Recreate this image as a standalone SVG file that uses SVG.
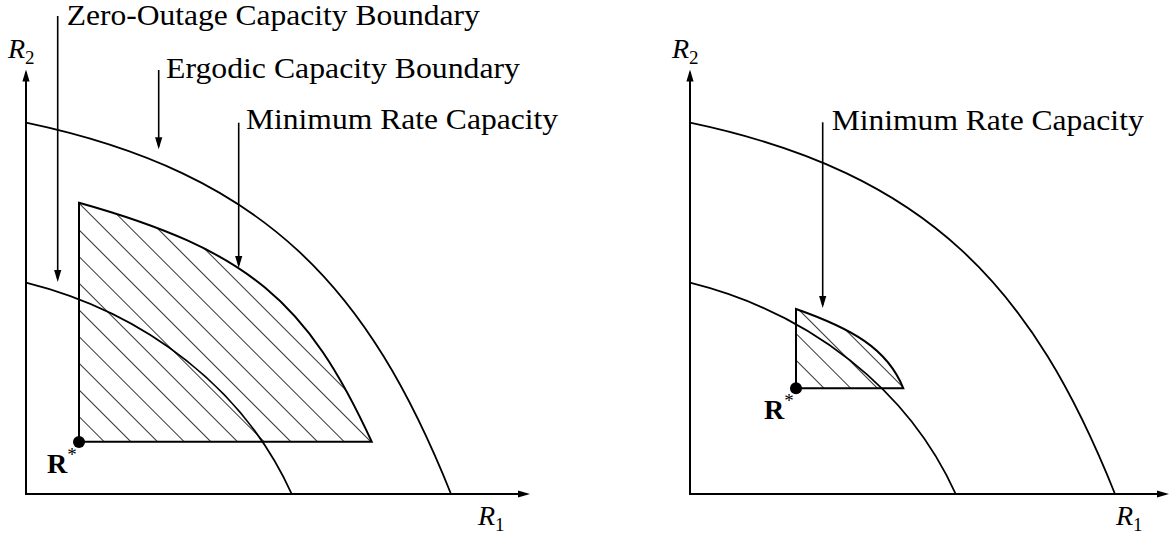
<svg xmlns="http://www.w3.org/2000/svg" width="1176" height="540" viewBox="0 0 1176 540">
  <style>
    .axis { stroke: #000; stroke-width: 2; fill: none; }
    .curve { stroke: #000; stroke-width: 1.8; fill: none; }
    .region { stroke: #000; stroke-width: 2; fill: url(#hatch); stroke-linejoin: miter; }
    .lead { stroke: #000; stroke-width: 1.6; fill: none; }
    text { font-family: "Liberation Serif", "Times New Roman", serif; fill: #000; }
    .lbl { font-size: 29px; }
    .math { font-style: italic; font-size: 28px; }
    .sub { font-style: normal; font-size: 19px; }
    .bold { font-weight: bold; font-size: 28px; }
    .sup { font-weight: normal; font-size: 19px; }
  </style>
  <defs>
    <marker id="arr" viewBox="0 -4 12 8" refX="9" refY="0" markerWidth="12" markerHeight="8" markerUnits="userSpaceOnUse" orient="auto">
      <path d="M0,-3.6 L12,0 L0,3.6 Z" fill="#000"/>
    </marker>
    <pattern id="hatch" patternUnits="userSpaceOnUse" width="20" height="18.856" patternTransform="rotate(45)">
      <line x1="-1" y1="12.4" x2="21" y2="12.4" stroke="#333" stroke-width="1"/>
    </pattern>
  </defs>

  <!-- Left panel -->
  <g id="left-panel">
    <g id="left-region">
      <path class="region" d="M79,202.7 C249,250.3 307.3,301.7 371.7,441.7 L79,441.7 Z"/>
    </g>
    <g id="left-ergodic">
      <path class="curve" d="M26,122.7 C266,173.1 369,289 451,494"/>
    </g>
    <g id="left-zero-outage">
      <path class="curve" d="M26,282.7 C146,312.7 244.5,389.3 291.7,494"/>
    </g>
    <g id="left-rstar">
      <circle cx="79" cy="442" r="6"/>
      <text class="bold" x="47" y="473">R<tspan class="sup" dy="-12">*</tspan></text>
    </g>
    <g id="left-axes">
      <line class="axis" x1="26" y1="494" x2="26" y2="72.5" marker-end="url(#arr)"/>
      <line class="axis" x1="25" y1="494" x2="527" y2="494" marker-end="url(#arr)"/>
      <text class="math" x="8" y="58">R<tspan class="sub" dy="6">2</tspan></text>
      <text class="math" x="478" y="525">R<tspan class="sub" dy="6">1</tspan></text>
    </g>
    <g id="label-zero-outage">
      <text class="lbl" x="66.7" y="25" textLength="413" lengthAdjust="spacingAndGlyphs">Zero-Outage Capacity Boundary</text>
    </g>
    <g id="label-ergodic">
      <text class="lbl" x="166" y="78" textLength="354" lengthAdjust="spacingAndGlyphs">Ergodic Capacity Boundary</text>
    </g>
    <g id="label-min-rate-left">
      <text class="lbl" x="246" y="129" textLength="312" lengthAdjust="spacingAndGlyphs">Minimum Rate Capacity</text>
    </g>
  </g>

  <!-- Right panel -->
  <g id="right-panel">
    <g id="right-region">
      <path class="region" d="M796,309 C851,328.3 887.3,348.3 903.3,388.3 L796,388.3 Z"/>
    </g>
    <g id="right-ergodic">
      <path class="curve" d="M690,122.7 C930,173.1 1033,289 1115,494"/>
    </g>
    <g id="right-zero-outage">
      <path class="curve" d="M690,282.7 C810,312.7 908.5,389.3 955.7,494"/>
    </g>
    <g id="right-rstar">
      <circle cx="796" cy="388.3" r="6"/>
      <text class="bold" x="764" y="419">R<tspan class="sup" dy="-12">*</tspan></text>
    </g>
    <g id="right-axes">
      <line class="axis" x1="690" y1="494" x2="690" y2="72.5" marker-end="url(#arr)"/>
      <line class="axis" x1="689" y1="494" x2="1166" y2="494" marker-end="url(#arr)"/>
      <text class="math" x="672" y="58">R<tspan class="sub" dy="6">2</tspan></text>
      <text class="math" x="1116" y="525">R<tspan class="sub" dy="6">1</tspan></text>
    </g>
    <g id="label-min-rate-right">
      <text class="lbl" x="831.7" y="130" textLength="312" lengthAdjust="spacingAndGlyphs">Minimum Rate Capacity</text>
    </g>
  </g>

  <!-- Connectors (label leaders) -->
  <g id="connectors">
    <line class="lead" x1="57.7" y1="16" x2="57.7" y2="279" marker-end="url(#arr)"/>
    <line class="lead" x1="158.7" y1="70" x2="158.7" y2="146.3" marker-end="url(#arr)"/>
    <line class="lead" x1="238.7" y1="122.7" x2="238.7" y2="265" marker-end="url(#arr)"/>
    <line class="lead" x1="822.7" y1="122.3" x2="822.7" y2="305" marker-end="url(#arr)"/>
  </g>
</svg>
